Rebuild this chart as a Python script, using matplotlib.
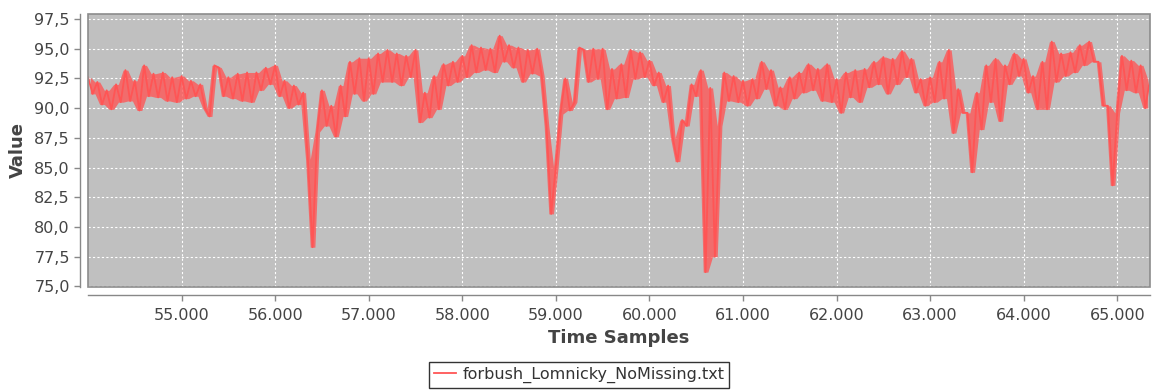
import matplotlib
matplotlib.use("Agg")
import matplotlib.pyplot as plt
from matplotlib.ticker import FuncFormatter, FixedLocator
from matplotlib.patches import Rectangle
import numpy as np

series_name = "forbush_Lomnicky_NoMissing.txt"
x_label = "Time Samples"
y_label = "Value"
start_sample = 54000
sample_step = 50

# values, one every 50 samples (54000 .. 65350)
values = [
    92.6, 91.2, 92.2, 90.3, 91.5, 89.9, 92.0, 90.5, 93.2, 90.6,   # 54000
    92.3, 89.8, 93.6, 91.0, 92.9, 90.9, 93.0, 90.6, 92.6, 90.5,   # 54500
    92.7, 90.8, 92.3, 91.0, 92.0, 90.0, 89.3, 93.6, 93.4, 91.0,   # 55000
    92.6, 90.8, 92.9, 90.6, 93.0, 90.5, 93.0, 91.5, 93.4, 92.0,   # 55500
    93.6, 91.0, 92.3, 90.0, 91.9, 90.3, 91.3, 85.7, 78.3, 88.0,   # 56000
    91.5, 88.5, 90.2, 87.6, 91.9, 89.3, 93.9, 91.2, 94.2, 90.6,   # 56500
    94.2, 91.2, 94.6, 92.2, 94.9, 92.2, 94.6, 91.9, 94.4, 92.6,   # 57000
    94.9, 88.8, 91.3, 89.2, 92.7, 89.9, 93.7, 91.9, 93.9, 92.2,   # 57500
    94.4, 92.6, 95.3, 93.0, 95.1, 93.2, 95.0, 93.0, 96.1, 93.9,   # 58000
    95.3, 93.4, 95.1, 92.2, 94.9, 92.9, 95.0, 92.7, 88.5, 81.1,   # 58500
    85.1, 89.5, 92.5, 89.8, 90.5, 95.1, 94.9, 92.2, 95.0, 92.45,  # 59000
    95.0, 89.9, 93.3, 90.8, 93.7, 90.9, 94.9, 92.45, 94.7, 92.6,  # 59500
    94.0, 91.9, 93.0, 90.5, 91.9, 87.5, 85.5, 89.0, 88.5, 92.0,   # 60000
    91.0, 93.2, 76.2, 91.7, 77.5, 88.5, 93.0, 90.6, 92.7, 90.5,   # 60500
    92.3, 90.2, 92.45, 90.8, 93.9, 91.6, 93.2, 90.2, 91.75, 89.9, # 61000
    92.6, 90.8, 93.0, 91.3, 93.7, 91.5, 93.3, 90.6, 93.7, 90.5,   # 61500
    92.45, 89.6, 93.0, 90.9, 93.2, 90.5, 93.3, 91.75, 93.9, 92.0, # 62000
    94.3, 91.2, 94.15, 92.0, 94.8, 92.6, 94.15, 91.3, 92.45, 90.2, # 62500
    92.6, 90.5, 93.9, 90.8, 94.9, 87.9, 91.6, 89.6, 89.6, 84.6,   # 63000
    91.3, 88.2, 93.6, 90.5, 94.15, 88.9, 93.6, 92.0, 94.6, 92.7,  # 63500
    94.15, 91.3, 92.7, 89.9, 93.9, 89.9, 95.6, 92.2, 94.6, 92.7,  # 64000
    94.7, 93.0, 95.3, 93.6, 95.6, 93.9, 93.9, 90.2, 90.2, 83.5,   # 64500
    89.6, 94.4, 91.5, 94.0, 91.3, 93.6, 90.0, 92.45,              # 65000
]

x_ticks = [55000, 56000, 57000, 58000, 59000, 60000,
           61000, 62000, 63000, 64000, 65000]
y_ticks = [75.0, 77.5, 80.0, 82.5, 85.0, 87.5, 90.0, 92.5, 95.0, 97.5]

line_color = "#ff5555"

samples = start_sample + sample_step * np.arange(len(values))
v = np.asarray(values, dtype=float)

W, H = 1153, 392
fig = plt.figure(figsize=(W / 100, H / 100), dpi=100)
ax = fig.add_axes([88 / W, 1 - 287 / H, (1150 - 88) / W, (287 - 14) / H])
ax.set_facecolor("#c0c0c0")

# the dense (noisy) series renders as a textured band: a shade of the
# span covered by neighbouring readings, with the line drawn through them
mid = (samples[:-1] + samples[1:]) / 2
ax.fill_between(mid, np.minimum(v[:-1], v[1:]), np.maximum(v[:-1], v[1:]),
                color=line_color, alpha=0.78, lw=0, zorder=2)
ax.plot(samples, v, color=line_color, lw=1.3, label=series_name, zorder=3)

ax.set_xlim(54000, 65350)
ax.set_ylim(74.95, 97.92)

ax.xaxis.set_major_locator(FixedLocator(x_ticks))
ax.yaxis.set_major_locator(FixedLocator(y_ticks))
ax.xaxis.set_major_formatter(FuncFormatter(lambda x, p: f"{int(round(x)):,}".replace(",", ".")))
ax.yaxis.set_major_formatter(FuncFormatter(lambda y, p: f"{y:.1f}".replace(".", ",")))

ax.grid(True, color="white", linestyle=(0, (2, 2)), lw=0.8)
ax.set_axisbelow(True)

for s in ["top", "right"]:
    ax.spines[s].set_visible(False)
for s in ["left", "bottom"]:
    ax.spines[s].set_position(("outward", 6))
    ax.spines[s].set_color("#888888")
    ax.spines[s].set_linewidth(1.0)

ax.add_patch(Rectangle((0, 0), 1, 1, transform=ax.transAxes, fill=False,
                       ec="#8c8c8c", lw=1.2, clip_on=False, zorder=5))

ax.tick_params(axis="both", direction="out", length=4, width=1,
               color="#888888", labelcolor="#444444", labelsize=11.5)
ax.tick_params(axis="x", pad=5)
ax.tick_params(axis="y", pad=3)

ax.set_xlabel(x_label, fontsize=13, fontweight="bold", color="#444444")
ax.xaxis.label.set_va("center")
ax.xaxis.set_label_coords(0.5, -(338 - 287) / 273)
ax.set_ylabel(y_label, fontsize=13, fontweight="bold", color="#444444")
ax.yaxis.label.set_va("center")
ax.yaxis.set_label_coords(-(88 - 18) / 1062, 0.5)

leg = fig.legend(loc="upper center", bbox_to_anchor=(579 / W, 1 - 362 / H),
                 frameon=True, fancybox=False, edgecolor="black",
                 fontsize=11.5, handlelength=1.4, handletextpad=0.4,
                 borderpad=0.3, borderaxespad=0)
leg.get_frame().set_linewidth(1.0)
for t in leg.get_texts():
    t.set_color("#333333")

fig.savefig("out.png", dpi=100)
